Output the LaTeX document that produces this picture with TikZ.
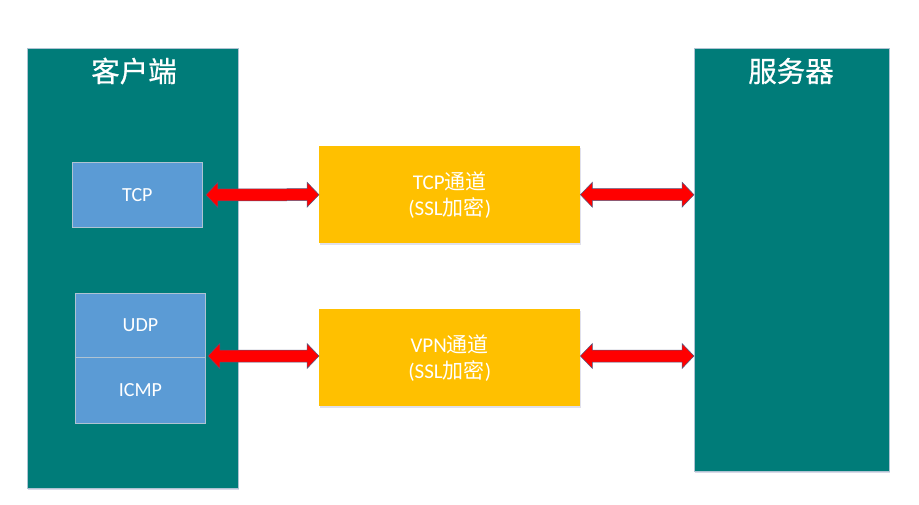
\documentclass[tikz,border=0pt]{standalone}
\usepackage{fontspec}
\setmainfont{Carlito}
\newfontfamily\cjk{Noto Sans CJK SC}
\newfontfamily\cjkt[FakeBold=0.6]{Noto Sans CJK SC}
\usetikzlibrary{calc,shadows}
\definecolor{tealbox}{RGB}{0,124,121}
\definecolor{bluebox}{RGB}{91,155,213}
\definecolor{goldbox}{RGB}{255,192,0}
\definecolor{edgegray}{RGB}{175,195,210}
\definecolor{arrowedge}{RGB}{80,90,130}
\newcommand\dblarrow[2]{%
  \filldraw[arrowstyle] (#1) -- ($(#1)+(12,-12.5)$) -- ($(#1)+(12,-6)$) -- ($(#2)+(-12,-6)$) -- ($(#2)+(-12,-12.5)$) -- (#2)
    -- ($(#2)+(-12,12.5)$) -- ($(#2)+(-12,6)$) -- ($(#1)+(12,6)$) -- ($(#1)+(12,12.5)$) -- cycle;}
\begin{document}
\begin{tikzpicture}[x=1pt,y=-1pt,
  host/.style={draw=edgegray, line width=0.8pt, fill=tealbox, inner sep=0pt, anchor=north west,
    drop shadow={shadow xshift=0.8pt, shadow yshift=-1.5pt, opacity=0.15, fill=blue!40!black}},
  proto/.style={draw=edgegray, line width=0.8pt, fill=bluebox, inner sep=0pt, anchor=north west,
    text=white, font=\fontsize{20}{24}\selectfont},
  tunnel/.style={fill=goldbox, inner sep=0pt, anchor=north west, text=white, align=center,
    font=\fontsize{21}{26}\selectfont,
    drop shadow={shadow xshift=0.8pt, shadow yshift=-1.5pt, opacity=0.12, fill=blue!40!black}},
  title/.style={text=white, font=\cjkt\fontsize{28.5}{32}\selectfont},
  arrowstyle/.style={fill=red, draw=arrowedge, line width=0.5pt, line join=miter}]
\useasboundingbox (0,0) rectangle (919,504);
\fill[white] (0,0) rectangle (919,504);
\node[host, minimum width=211, minimum height=440] (client) at (27,48) {};
\node[host, minimum width=195, minimum height=423] (server) at (694,48) {};
\node[title] (clientt) at (134,71) {客户端};
\node[title] (servert) at (791,71) {服务器};
\node[proto, minimum width=130, minimum height=65] (tcp) at (72,162) {TCP};
\node[proto, minimum width=130, minimum height=64] (udp) at (75,293) {UDP};
\node[proto, minimum width=130, minimum height=66] (icmp) at (75,357) {ICMP};
\node[tunnel, minimum width=261, minimum height=97] (tcpt) at (319,146) {TCP{\cjk 通道}\\({SSL}{\cjk 加密})};
\node[tunnel, minimum width=261, minimum height=97] (vpnt) at (319,309) {VPN{\cjk 通道}\\({SSL}{\cjk 加密})};
\coordinate (a1) at ($(tcp.east)+(3,0)$);
\coordinate (b1) at (tcpt.west);
\coordinate (c1) at (tcpt.east);
\coordinate (d1) at (tcpt.east -| server.west);
\coordinate (a2) at ($(icmp.north east)+(2,-1)$);
\coordinate (b2) at (a2 -| vpnt.west);
\coordinate (c2) at (a2 -| vpnt.east);
\coordinate (d2) at (a2 -| server.west);
\dblarrow{a1}{b1}
\dblarrow{c1}{d1}
\dblarrow{a2}{b2}
\dblarrow{c2}{d2}
\end{tikzpicture}
\end{document}
